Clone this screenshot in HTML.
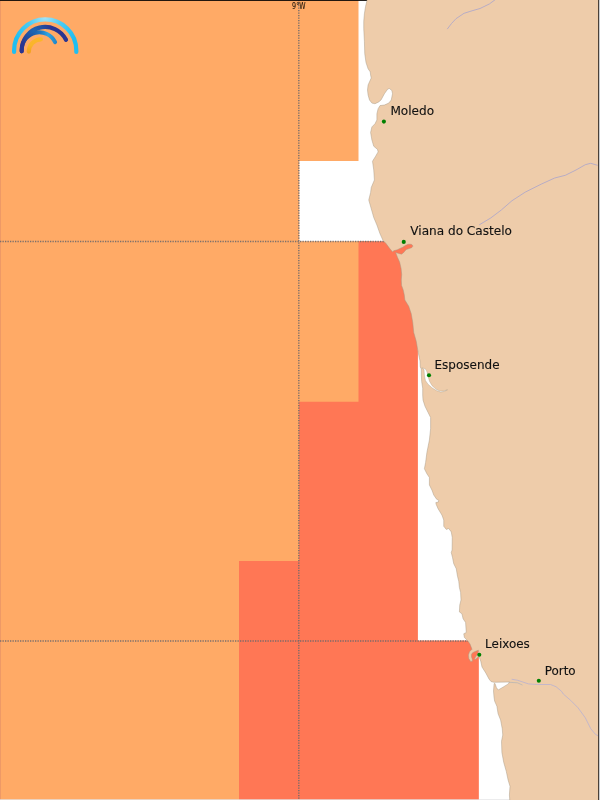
<!DOCTYPE html>
<html lang="pt">
<head>
<meta charset="utf-8">
<title>Avisos costeiros</title>
<style>
html,body{margin:0;padding:0;background:#fff;overflow:hidden}
body{width:600px;height:800px;position:relative}
svg{position:absolute;left:0;top:0;display:block}
.lbl{font-family:"DejaVu Sans","Liberation Sans",sans-serif;font-size:11.8px;fill:#111;stroke:#111;stroke-width:.12px}
.grat{font-family:"DejaVu Sans","Liberation Sans",sans-serif;font-size:8.6px;fill:#1a1208;stroke:#1a1208;stroke-width:.1px}
.grid{stroke:#6e696c;stroke-opacity:.9;stroke-width:1.45;stroke-dasharray:1.3 1.2;fill:none}
.river{fill:none;stroke:#ada7ca;stroke-width:.85;stroke-linecap:round;stroke-linejoin:round}
.dot{fill:#008000}
</style>
</head>
<body>
<svg width="600" height="800" viewBox="0 0 600 800">
<defs>
<radialGradient id="gOuter" gradientUnits="userSpaceOnUse" cx="45" cy="17" r="36">
<stop offset="0" stop-color="#a4e4f8"/><stop offset=".45" stop-color="#4dccf3"/><stop offset="1" stop-color="#1fbef0"/>
</radialGradient>
<radialGradient id="gDark" gradientUnits="userSpaceOnUse" cx="34" cy="31" r="17">
<stop offset="0" stop-color="#1d67b4"/><stop offset=".5" stop-color="#2350a2"/><stop offset="1" stop-color="#2b3590"/>
</radialGradient>
<linearGradient id="gMid" gradientUnits="userSpaceOnUse" x1="21" y1="0" x2="57" y2="0">
<stop offset="0" stop-color="#2b3590"/><stop offset=".3" stop-color="#1f58a6"/><stop offset=".55" stop-color="#1e78c2"/><stop offset=".75" stop-color="#30a4e1"/><stop offset="1" stop-color="#2084c6"/>
</linearGradient>
<linearGradient id="gYel" gradientUnits="userSpaceOnUse" x1="0" y1="53" x2="0" y2="38">
<stop offset="0" stop-color="#f2a01e"/><stop offset=".5" stop-color="#fab42b"/><stop offset="1" stop-color="#fbb62c"/>
</linearGradient>
</defs>

<rect x="0" y="0" width="600" height="800" fill="#ffffff"/>

<!-- sea warning areas : orange level -->
<path fill="#ffaa66" d="M0,0 H358.5 V161 H299.3 V241.3 H372 V800 H0 Z"/>
<rect x="0" y="0" width="1" height="800" fill="#ee9966"/>

<!-- sea warning areas : red-orange level -->
<path fill="#ff7755" d="M358.5,241.2 H417.9 V640.5 H478.85 V800 H239 V561 H298.9 V401.75 H358.5 Z"/>

<!-- graticule -->
<line class="grid" x1="0" y1="241.4" x2="600" y2="241.4"/>
<line class="grid" x1="0" y1="640.9" x2="600" y2="640.9"/>
<line class="grid" x1="298.8" y1="0" x2="298.8" y2="800"/>
<rect x="0" y="0" width="600" height="0.9" fill="#0b0705"/>
<rect x="0" y="799.3" width="600" height="0.7" fill="#e4e4e6"/>
<text class="grat" x="292.1" y="9" textLength="13.5" lengthAdjust="spacingAndGlyphs">9°W</text>

<!-- land -->
<path id="land" fill="#eeccaa" stroke="#a39682" stroke-width=".45" stroke-linejoin="round" d="M367.1,-1 L367.1,0 L365.6,6.25 L364.4,13.75 L363.75,21.25 L363.75,28.75 L364.4,41.25 L364.75,53.75 L366,62.5 L368.1,68.75 L370.25,71.9 L370.6,75 L371.25,78 L369.75,81.25 L368.1,85 L367.5,90 L368.1,95 L369.5,100 L371.9,103.1 L375,103.75 L378.75,101.9 L381,100 L384.4,93.75 L387.75,89 L389.4,88.5 L391.9,90.6 L392.5,93.75 L391.25,100 L388.75,103.1 L384.4,105 L380,105.6 L378.1,108.75 L376.9,113.75 L376.9,120 L375,123.75 L371.9,126.9 L370.6,132.5 L371.9,140 L373.75,146.25 L377.5,149.4 L378.1,151.9 L375.6,156.25 L372.5,161.25 L373.75,170 L374.4,180 L371.25,187.5 L370.6,192.5 L368.75,200 L371.25,208.75 L373.75,217.5 L376.9,225 L380,233.75 L383.1,240.6 L386.25,243.75 L389.4,248.1 L392.6,251.9 L393.7,250.7 L397.3,249.8 L400,248.4 L402.7,247.3 L405.3,245.6 L408,244.3 L411.2,244.3 L412.6,245.3 L412.7,246.6 L411.6,247.7 L409.3,248.5 L406.2,249.6 L404.6,251.4 L403.2,253 L401.4,254.2 L398,253.2 L395.6,252.6 L396.7,255.3 L397.6,257.5 L399.7,262.3 L401.1,268.5 L401.7,274.5 L401.3,280 L401.6,285.5 L403.25,290 L404.3,295 L404.9,300 L408.75,306.25 L411.25,313.75 L412.75,322.5 L413.75,332.5 L416.25,341.25 L417.75,350 L418.7,355 L420,361 L420.3,367 L421.3,369 L421.3,375 L421.7,381.7 L422.7,388.3 L422.7,395 L423,400 L425,406.25 L428.1,412.5 L430.6,417.5 L430.6,428.75 L429.4,440 L426.9,452.5 L425.6,462.5 L424.4,468.75 L426.9,473.75 L429.4,477.5 L429.4,485 L431.9,490 L433.75,495 L436.6,499.2 L438.7,500.3 L438.4,502 L435.8,502.6 L436.2,504.4 L438.1,508.75 L441.9,515 L443.75,520 L443.75,526.25 L446.25,529.4 L448.75,528.5 L451.25,531.9 L452.25,537.5 L452.1,550 L451.25,552.5 L452.5,557.5 L453.75,563.75 L456.25,568.75 L457.5,576.25 L458.75,581.25 L459.4,587.5 L460.6,592.5 L461,600 L459.75,605 L459.4,611.9 L461.9,613.75 L463.1,618.75 L465.6,622.5 L466.25,632.5 L463.75,633.75 L464.4,637.5 L467.5,640.6 L470,644 L472,649.3 L469.5,651.8 L468.4,655 L468.8,658.5 L470.6,661.4 L472.4,661.2 L472.4,659.5 L471.5,657 L471.4,654.6 L472.6,652.7 L475,651.5 L477.5,650.6 L478.4,650.2 L478.5,651.5 L477.4,654.5 L476,656.3 L474.6,658.4 L474.7,659.5 L476,658.9 L477.5,657.6 L479,656.5 L480.7,661 L482,667 L485.8,673 L489,679 L491,681.5 L494,682.3 L509.5,682 L508.3,683.9 L503.75,686.7 L498.25,690 L496.4,687.6 L495,683.5 L494.2,683.5 L494,685 L493.5,691 L494,697 L494.6,701 L496.9,706.25 L498.1,713.75 L500.6,720 L502.25,728.75 L502.75,735 L501.5,741.25 L501.9,752.5 L503.75,762.5 L506.25,771.25 L508.1,780 L510,786.25 L509.4,795 L509.75,800 L509.75,801 L601,801 L601,-1 Z"/>

<!-- Cavado inlet -->
<path fill="#ffffff" stroke="#a39682" stroke-width=".35" stroke-linejoin="round" d="M421.8,367.9 L424.4,368.5 L426,369.6 L427.1,372.2 L428.1,376.8 L429.6,381.4 L432.1,385.7 L436.1,389.3 L440,391.1 L443.3,391 L447.5,389.8 L444,391.5 L440.6,392 L436.4,390.6 L432,387.8 L428,384.2 L425.4,380.5 L424.4,375 L424,369.5 Z"/>

<!-- rivers -->
<path class="river" d="M447.5,28.8 L451.5,23.5 L456,18.7 L464,13.3 L472,10.8 L480,8.5 L489.3,4 L494.7,0"/>
<path class="river" d="M479.5,224.7 L490.7,218 L501.3,210 L512,200.7 L525.3,192.1 L541.3,184.1 L554.7,178 L565.3,175.3 L576,170 L585.3,164.7 L590.7,163.3 L597.3,165.2"/>
<path class="river" style="stroke:#b9b1d1;stroke-width:.8" d="M512,679.3 L517.5,680.25 L523,682.1 L528.5,683.9 L537.7,684.5 L550.5,684.5 L556,686.7 L561.5,691.25 L563.3,694 L570.7,700.4 L578,707.75 L585.3,717.8 L590.8,728.8 L595.4,734.3 L598.2,735.8"/>
<path fill="none" stroke="#b9b6b4" stroke-width=".8" stroke-linecap="round" d="M509.25,682.3 L517.5,682.8 L522.1,684.9"/>

<!-- stations -->
<circle class="dot" cx="383.9" cy="121.6" r="2.05"/>
<circle class="dot" cx="403.75" cy="241.9" r="2.05"/>
<circle class="dot" cx="429" cy="375.3" r="2.05"/>
<circle class="dot" cx="479.3" cy="654.8" r="2.05"/>
<circle class="dot" cx="538.8" cy="680.8" r="2.05"/>
<text class="lbl" transform="translate(390.4,114.5) scale(1.025,1)">Moledo</text>
<text class="lbl" transform="translate(410.3,235) scale(1.025,1)">Viana do Castelo</text>
<text class="lbl" transform="translate(434.5,369) scale(1.018,1)">Esposende</text>
<text class="lbl" transform="translate(485.1,648) scale(1.012,1)">Leixoes</text>
<text class="lbl" transform="translate(544.7,674.9) scale(1.012,1)">Porto</text>

<!-- logo -->
<g fill="none" stroke-linecap="round">
<path stroke="url(#gOuter)" stroke-width="4.2" d="M14.1,52 L14.1,50.4 A31.1,31.1 0 0 1 76.3,50.4 L76.3,52"/>
<path stroke="url(#gMid)" stroke-width="4" d="M21.7,51.3 L21.7,49.6 A17.6,17.6 0 0 1 55.1,42.1"/>
<path stroke="url(#gDark)" stroke-width="4.2" d="M21.7,51.3 L21.7,50.6 A23.4,23.4 0 0 1 66,39.8"/>
<path stroke="url(#gYel)" stroke-width="4.2" d="M28.8,51.6 A12.4,12.4 0 0 1 40.9,39.4"/>
</g>

<!-- right frame remnants -->

<rect x="598" y="0" width="1" height="800" fill="#4a4038"/>
<rect x="599" y="0" width="1" height="800" fill="#c9ccd0"/>
</svg>
</body>
</html>
